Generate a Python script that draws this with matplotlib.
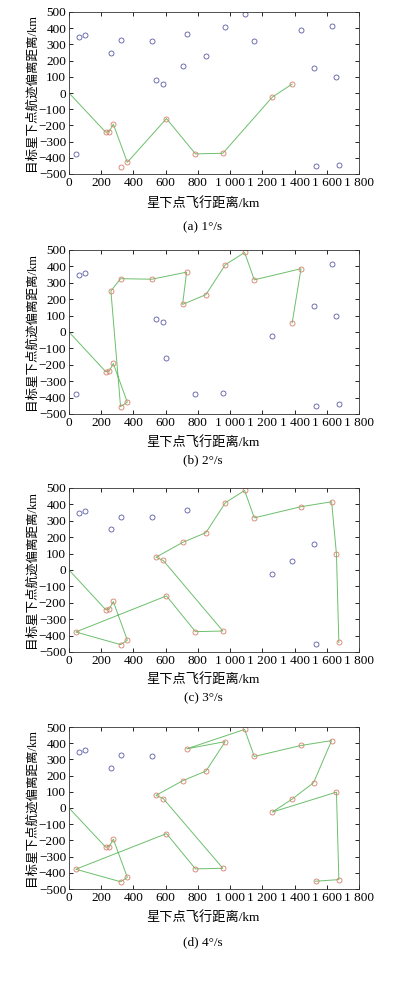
import matplotlib
matplotlib.use("Agg")
import matplotlib.pyplot as plt

plt.rcParams['font.family'] = ['Liberation Serif', 'Noto Sans CJK SC']
plt.rcParams['mathtext.fontset'] = 'stix'

# target positions (km): along-track distance, cross-track offset
target_x = [60, 100, 260, 320, 515, 730, 705, 540, 585, 850,
            970, 1090, 1150, 1440, 1630, 1518, 1660, 1262, 1385, 1530,
            1675, 42, 228, 250, 275, 320, 362, 605, 785, 955]
target_y = [348, 360, 250, 325, 322, 365, 168, 78, 58, 228,
            410, 485, 318, 386, 416, 156, 98, -25, 55, -452,
            -442, -378, -242, -238, -192, -455, -428, -158, -376, -372]

start_point = (0, 0)

# observation sequences (indices into target lists), one per slew rate
path_a = [22, 23, 24, 26, 27, 28, 29, 17, 18]
path_b = [22, 23, 24, 26, 25, 2, 3, 4, 5, 6, 9, 10, 11, 12, 13, 18]
path_c = [22, 23, 24, 26, 25, 21, 27, 28, 29, 8, 7, 6, 9, 10, 11, 12, 13,
          14, 16, 20]
path_d = [22, 23, 24, 26, 25, 21, 27, 28, 29, 8, 7, 6, 9, 10, 5, 11, 12,
          13, 14, 15, 18, 17, 16, 20, 19]
extra_visited = [[25], [], [], []]

paths = [path_a, path_b, path_c, path_d]
captions = ['(a) 1°/s', '(b) 2°/s', '(c) 3°/s', '(d) 4°/s']

x_ticks = [0, 200, 400, 600, 800, 1000, 1200, 1400, 1600, 1800]
x_ticklabels = ['0', '200', '400', '600', '800', '1 000', '1 200', '1 400',
                '1 600', '1 800']
y_ticks = [500, 400, 300, 200, 100, 0, -100, -200, -300, -400, -500]

W, H = 399, 994
# axes boxes in pixels: (top, bottom)
boxes = [(12, 174), (250, 414), (488, 652), (727, 889)]
xlabel_y = [203, 442, 679, 917]
caption_y = [227, 460, 698, 942]

fig = plt.figure(figsize=(W / 100, H / 100), dpi=100)

blue = '#5a5aa8'
orange = '#d4806a'
green = '#6cbf6c'

for k in range(4):
    top, bot = boxes[k]
    ax = fig.add_axes([69 / W, 1 - bot / H, 290 / W, (bot - top) / H])
    visited = set(paths[k]) | set(extra_visited[k])

    bx = [target_x[i] for i in range(len(target_x)) if i not in visited]
    by = [target_y[i] for i in range(len(target_y)) if i not in visited]
    ax.plot(bx, by, 'o', ms=3.6, mfc='none', mec=blue, mew=0.6)

    px = [start_point[0]] + [target_x[i] for i in paths[k]]
    py = [start_point[1]] + [target_y[i] for i in paths[k]]
    ax.plot(px, py, '-', color=green, lw=0.7)

    ox = [target_x[i] for i in sorted(visited)]
    oy = [target_y[i] for i in sorted(visited)]
    ax.plot(ox, oy, 'o', ms=3.6, mfc='none', mec=orange, mew=0.6)

    ax.set_xlim(0, 1800)
    ax.set_ylim(-500, 500)
    ax.set_xticks(x_ticks)
    ax.set_xticklabels(x_ticklabels)
    ax.set_yticks(y_ticks)
    ax.tick_params(direction='in', top=True, right=True, length=3,
                   width=0.6, labelsize=9.5, pad=2)
    for s in ax.spines.values():
        s.set_linewidth(0.6)
        s.set_color('#333333')

    ax.set_ylabel('目标星下点航迹偏离距离/km', fontsize=9, labelpad=1)
    fig.text(203 / W, 1 - xlabel_y[k] / H, '星下点飞行距离/km', fontsize=9.5,
             ha='center', va='center')
    fig.text(203 / W, 1 - caption_y[k] / H, captions[k], fontsize=9.5,
             ha='center', va='center')

fig.savefig('out.png', dpi=100)
